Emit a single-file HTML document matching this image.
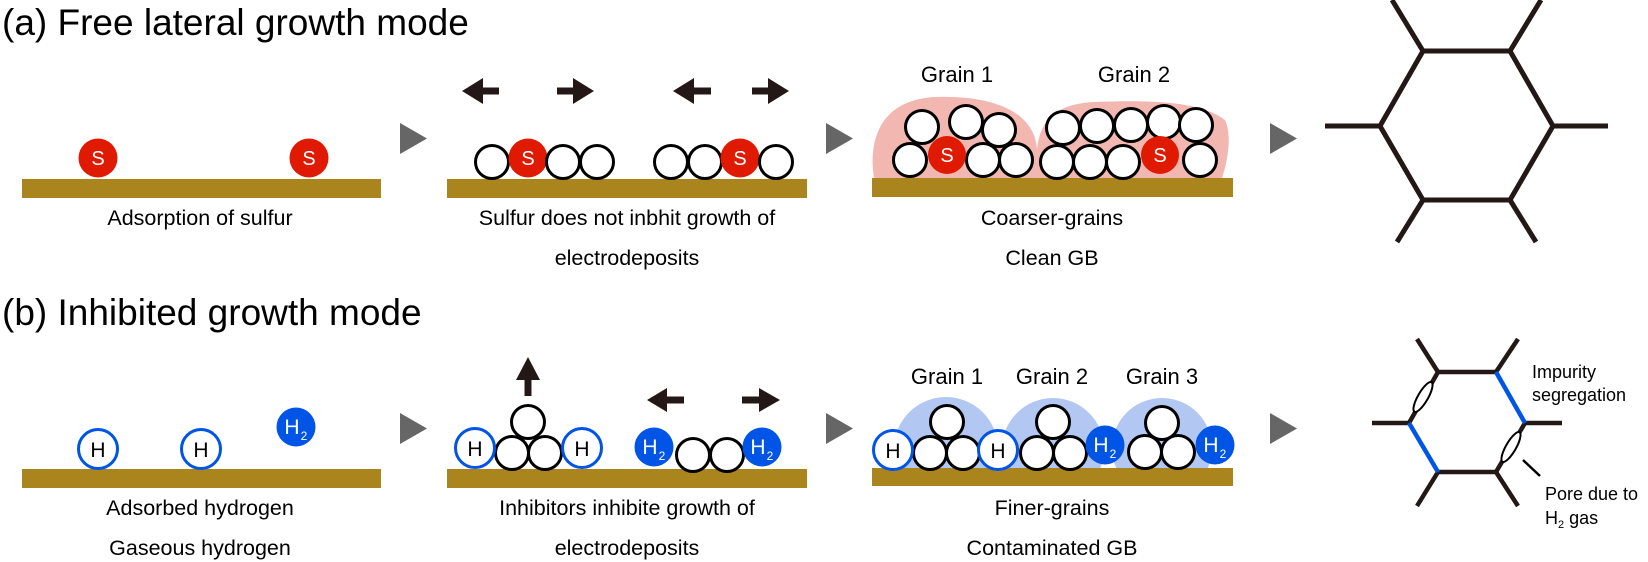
<!DOCTYPE html>
<html><head><meta charset="utf-8"><style>
html,body{margin:0;padding:0;background:#fff;}
svg{display:block;font-family:"Liberation Sans",Arial,sans-serif;}
</style></head><body>
<svg width="1648" height="562" viewBox="0 0 1648 562" xmlns="http://www.w3.org/2000/svg">
<defs>
<g id="c"><circle r="16.5" fill="#fff" stroke="#000" stroke-width="3"/></g>
<clipPath id="above"><rect x="860" y="380" width="380" height="89"/></clipPath>
</defs>
<text x="2" y="35" font-size="37">(a) Free lateral growth mode</text>
<text x="2" y="325" font-size="37">(b) Inhibited growth mode</text>

<rect x="22" y="179" width="359" height="19" fill="#aa841c"/>
<circle cx="98" cy="158" r="19.5" fill="#e01a00"/><text x="98" y="165" font-size="20" fill="#fff" text-anchor="middle">S</text>
<circle cx="309" cy="158" r="19.5" fill="#e01a00"/><text x="309" y="165" font-size="20" fill="#fff" text-anchor="middle">S</text>
<polygon points="400,123 427,138.5 400,154" fill="#666"/>
<text x="200" y="225" font-size="21.5" text-anchor="middle">Adsorption of sulfur</text>

<rect x="447" y="179" width="360" height="19" fill="#aa841c"/>
<use href="#c" x="492" y="162"/><circle cx="528" cy="158" r="19.5" fill="#e01a00"/><text x="528" y="165" font-size="20" fill="#fff" text-anchor="middle">S</text>
<use href="#c" x="563" y="162"/><use href="#c" x="597" y="162"/>
<use href="#c" x="671" y="162"/><use href="#c" x="705" y="162"/>
<circle cx="740" cy="158" r="19.5" fill="#e01a00"/><text x="740" y="165" font-size="20" fill="#fff" text-anchor="middle">S</text>
<use href="#c" x="776" y="162"/>
<g fill="#231815">
<polygon points="462,91 483,78 483,104"/><rect x="482" y="87.5" width="17" height="7"/>
<polygon points="594,91 573,78 573,104"/><rect x="557" y="87.5" width="17" height="7"/>
<polygon points="673,91 694,78 694,104"/><rect x="693" y="87.5" width="18" height="7"/>
<polygon points="789,91 768,78 768,104"/><rect x="752" y="87.5" width="17" height="7"/>
</g>
<polygon points="826,123 853,138.5 826,154" fill="#666"/>
<text x="627" y="225" font-size="21.5" text-anchor="middle">Sulfur does not inbhit growth of</text>
<text x="627" y="265" font-size="21.5" text-anchor="middle">electrodeposits</text>

<path d="M874,178 C868,140 880,100 935,97 C990,95 1035,110 1037,150 L1037,178 Z" fill="#f3b7b1"/>
<path d="M1037,178 C1033,130 1045,104 1095,102 C1150,100 1200,101 1225,120 C1232,135 1228,160 1222,178 Z" fill="#f3b7b1"/>
<rect x="872" y="178" width="361" height="19" fill="#aa841c"/>
<use href="#c" x="922" y="127"/><use href="#c" x="966" y="122"/><use href="#c" x="999" y="130"/>
<use href="#c" x="910" y="160"/><use href="#c" x="983" y="160"/><use href="#c" x="1016" y="160"/>
<circle cx="947" cy="155" r="19" fill="#e01a00"/><text x="947" y="162" font-size="20" fill="#fff" text-anchor="middle">S</text>
<use href="#c" x="1063" y="128"/><use href="#c" x="1097" y="126"/><use href="#c" x="1131" y="125"/><use href="#c" x="1164" y="122"/><use href="#c" x="1196" y="125"/>
<use href="#c" x="1057" y="162"/><use href="#c" x="1090" y="162"/><use href="#c" x="1123" y="162"/><use href="#c" x="1200" y="160"/>
<circle cx="1160" cy="155" r="19" fill="#e01a00"/><text x="1160" y="162" font-size="20" fill="#fff" text-anchor="middle">S</text>
<text x="957" y="82" font-size="22" text-anchor="middle">Grain 1</text>
<text x="1134" y="82" font-size="22" text-anchor="middle">Grain 2</text>
<polygon points="1270,123 1297,138.5 1270,154" fill="#666"/>
<text x="1052" y="225" font-size="21.5" text-anchor="middle">Coarser-grains</text>
<text x="1052" y="265" font-size="21.5" text-anchor="middle">Clean GB</text>

<g stroke="#231815" stroke-width="5" fill="none">
<polygon points="1423,51 1510,51 1553,126 1510,200 1423,200 1380,126"/>
<line x1="1423" y1="51" x2="1392" y2="0"/><line x1="1510" y1="51" x2="1541" y2="0"/>
<line x1="1380" y1="126" x2="1325" y2="126"/><line x1="1553" y1="126" x2="1608" y2="126"/>
<line x1="1423" y1="200" x2="1397" y2="242"/><line x1="1510" y1="200" x2="1536" y2="242"/>
</g>

<rect x="22" y="469" width="359" height="19" fill="#aa841c"/>
<g fill="#fff" stroke="#0055e6" stroke-width="3"><circle cx="98" cy="449" r="19.5"/><circle cx="201" cy="449" r="19.5"/></g>
<text x="98" y="457" font-size="21" text-anchor="middle">H</text>
<text x="201" y="457" font-size="21" text-anchor="middle">H</text>
<circle cx="296" cy="427" r="19.5" fill="#0055e6"/>
<text x="292" y="434" font-size="21" fill="#fff" text-anchor="middle">H</text><text x="304" y="440" font-size="12" fill="#fff" text-anchor="middle">2</text>
<polygon points="400,413 427,428.5 400,444" fill="#666"/>
<text x="200" y="515" font-size="21.5" text-anchor="middle">Adsorbed hydrogen</text>
<text x="200" y="555" font-size="21.5" text-anchor="middle">Gaseous hydrogen</text>

<rect x="447" y="469" width="360" height="19" fill="#aa841c"/>
<use href="#c" x="528" y="422"/><use href="#c" x="512" y="453"/><use href="#c" x="545" y="453"/>
<g fill="#fff" stroke="#0055e6" stroke-width="3"><circle cx="475" cy="448" r="19.5"/><circle cx="582" cy="448" r="19.5"/></g>
<text x="475" y="456" font-size="21" text-anchor="middle">H</text><text x="582" y="456" font-size="21" text-anchor="middle">H</text>
<use href="#c" x="693" y="455"/><use href="#c" x="727" y="455"/>
<circle cx="654" cy="447" r="19.5" fill="#0055e6"/><text x="650" y="454" font-size="21" fill="#fff" text-anchor="middle">H</text><text x="662" y="460" font-size="12" fill="#fff" text-anchor="middle">2</text>
<circle cx="762" cy="447" r="19.5" fill="#0055e6"/><text x="758" y="454" font-size="21" fill="#fff" text-anchor="middle">H</text><text x="770" y="460" font-size="12" fill="#fff" text-anchor="middle">2</text>
<g fill="#231815">
<polygon points="528,357 516,380 540,380"/><rect x="524.5" y="379" width="7" height="17"/>
<polygon points="647,400 667,388 667,412"/><rect x="666" y="396.5" width="18" height="7"/>
<polygon points="780,400 759,388 759,412"/><rect x="742" y="396.5" width="18" height="7"/>
</g>
<polygon points="826,413 853,428.5 826,444" fill="#666"/>
<text x="627" y="515" font-size="21.5" text-anchor="middle">Inhibitors inhibite growth of</text>
<text x="627" y="555" font-size="21.5" text-anchor="middle">electrodeposits</text>

<g fill="#b2c7f2" clip-path="url(#above)">
<circle cx="946" cy="449" r="52"/>
<circle cx="1053" cy="449" r="51"/>
<circle cx="1162" cy="448" r="50"/>
</g>
<rect x="872" y="468" width="361" height="18" fill="#aa841c"/>
<use href="#c" x="947" y="422"/><use href="#c" x="930" y="453"/><use href="#c" x="963" y="453"/>
<use href="#c" x="1053" y="422"/><use href="#c" x="1037" y="453"/><use href="#c" x="1070" y="453"/>
<use href="#c" x="1162" y="423"/><use href="#c" x="1145" y="452"/><use href="#c" x="1178" y="452"/>
<g fill="#fff" stroke="#0055e6" stroke-width="3"><circle cx="893" cy="450" r="19.5"/><circle cx="998" cy="450" r="19.5"/></g>
<text x="893" y="458" font-size="21" text-anchor="middle">H</text><text x="998" y="458" font-size="21" text-anchor="middle">H</text>
<circle cx="1105" cy="445" r="19.5" fill="#0055e6"/><text x="1101" y="452" font-size="21" fill="#fff" text-anchor="middle">H</text><text x="1113" y="458" font-size="12" fill="#fff" text-anchor="middle">2</text>
<circle cx="1215" cy="445" r="19.5" fill="#0055e6"/><text x="1211" y="452" font-size="21" fill="#fff" text-anchor="middle">H</text><text x="1223" y="458" font-size="12" fill="#fff" text-anchor="middle">2</text>
<text x="947" y="384" font-size="22" text-anchor="middle">Grain 1</text>
<text x="1052" y="384" font-size="22" text-anchor="middle">Grain 2</text>
<text x="1162" y="384" font-size="22" text-anchor="middle">Grain 3</text>
<polygon points="1270,413 1297,428.5 1270,444" fill="#666"/>
<text x="1052" y="515" font-size="21.5" text-anchor="middle">Finer-grains</text>
<text x="1052" y="555" font-size="21.5" text-anchor="middle">Contaminated GB</text>

<g stroke="#231815" stroke-width="4.5" fill="none">
<line x1="1438" y1="372" x2="1496" y2="372"/><line x1="1438" y1="472" x2="1496" y2="472"/>
<line x1="1409" y1="423" x2="1438" y2="372"/><line x1="1496" y1="472" x2="1525" y2="423"/>
<line x1="1438" y1="372" x2="1417" y2="339"/><line x1="1496" y1="372" x2="1518" y2="339"/>
<line x1="1409" y1="423" x2="1372" y2="423"/><line x1="1525" y1="423" x2="1562" y2="423"/>
<line x1="1438" y1="472" x2="1417" y2="506"/><line x1="1496" y1="472" x2="1518" y2="506"/>
</g>
<g stroke="#0055e6" stroke-width="4.5"><line x1="1496" y1="372" x2="1525" y2="423"/><line x1="1409" y1="423" x2="1438" y2="472"/></g>
<ellipse cx="1423" cy="397" rx="17" ry="5" fill="#fff" stroke="#000" stroke-width="2" transform="rotate(-60 1423 397)"/>
<ellipse cx="1511" cy="447" rx="17" ry="5" fill="#fff" stroke="#000" stroke-width="2" transform="rotate(-60 1511 447)"/>
<line x1="1523" y1="460" x2="1540" y2="476" stroke="#000" stroke-width="2.5"/>
<text x="1532" y="378" font-size="18">Impurity</text>
<text x="1532" y="401" font-size="18">segregation</text>
<text x="1545" y="500" font-size="18">Pore due to</text>
<text x="1545" y="524" font-size="18">H<tspan font-size="11" dy="4">2</tspan><tspan dy="-4"> gas</tspan></text>
</svg>
</body></html>
